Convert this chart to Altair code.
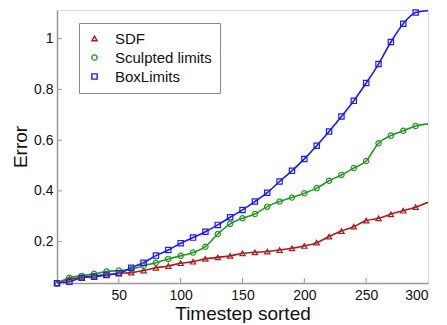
import altair as alt
import pandas as pd

timesteps = list(range(0, 301, 10))
series_names = ["SDF", "Sculpted limits", "BoxLimits"]

sdf = [0.036, 0.052, 0.058, 0.065, 0.069, 0.075, 0.078, 0.086, 0.097, 0.104,
       0.115, 0.121, 0.132, 0.138, 0.144, 0.154, 0.158, 0.161, 0.167, 0.174,
       0.183, 0.196, 0.220, 0.242, 0.259, 0.283, 0.292, 0.308, 0.322, 0.336, 0.355]
sculpted = [0.036, 0.058, 0.065, 0.073, 0.082, 0.086, 0.091, 0.105, 0.117, 0.132,
            0.144, 0.157, 0.180, 0.230, 0.270, 0.292, 0.309, 0.338, 0.358, 0.374,
            0.391, 0.411, 0.440, 0.463, 0.490, 0.518, 0.588, 0.618, 0.637, 0.656, 0.664]
box = [0.036, 0.042, 0.058, 0.062, 0.069, 0.075, 0.097, 0.117, 0.145, 0.167,
       0.194, 0.216, 0.239, 0.266, 0.296, 0.325, 0.358, 0.393, 0.437, 0.479,
       0.526, 0.578, 0.634, 0.693, 0.755, 0.825, 0.900, 0.987, 1.059, 1.103, 1.110]

x_ticks = [50, 100, 150, 200, 250, 300]
y_ticks = [0.2, 0.4, 0.6, 0.8, 1.0]

colors = ["#b01c1c", "#1f9a1f", "#1a1aff"]
shapes = ["triangle-up", "circle", "square"]

rows = []
for name, vals in zip(series_names, [sdf, sculpted, box]):
    for t, v in zip(timesteps, vals):
        rows.append({"t": t, "err": v, "series": name})
df = pd.DataFrame(rows)
pts = df[df["t"] < 300]

FONT = "Liberation Sans"
xscale = alt.Scale(domain=[0, 300], nice=False, zero=False)
yscale = alt.Scale(domain=[0.037, 1.113], nice=False, zero=False)
cscale = alt.Scale(domain=series_names, range=colors)
sscale = alt.Scale(domain=series_names, range=shapes)

xaxis = alt.Axis(values=x_ticks, ticks=False, grid=False, title="Timestep sorted",
                 domainColor="#999999", domainWidth=1.5, labelFontSize=14,
                 labelPadding=5, titleFontSize=19, titlePadding=2,
                 labelColor="#111", titleColor="#111", titleFontWeight="normal")
yaxis = alt.Axis(values=y_ticks, ticks=False, grid=False, title="Error",
                 labelExpr="datum.value == 1 ? '1' : format(datum.value, '.1f')",
                 domainColor="#999999", domainWidth=1.5, labelFontSize=14,
                 labelPadding=4, titleFontSize=19, titlePadding=3,
                 labelColor="#111", titleColor="#111", titleFontWeight="normal")

legend = alt.Legend(title=None, orient="none", legendX=22, legendY=13,
                    fillColor="white", strokeColor="#888888",
                    padding=8, labelFontSize=15, labelFont=FONT,
                    labelColor="#111", symbolSize=28,
                    symbolStrokeWidth=1.4, rowPadding=3,
                    labelOffset=13, symbolFillColor="transparent")

lines = alt.Chart(df).mark_line(interpolate="monotone", strokeWidth=1.6, clip=True).encode(
    x=alt.X("t:Q", scale=xscale, axis=xaxis),
    y=alt.Y("err:Q", scale=yscale, axis=yaxis),
    color=alt.Color("series:N", scale=cscale, sort=series_names, legend=legend),
    detail="series:N",
)

points = alt.Chart(pts).mark_point(filled=False, size=28, strokeWidth=1.2, opacity=1).encode(
    x=alt.X("t:Q", scale=xscale),
    y=alt.Y("err:Q", scale=yscale),
    color=alt.Color("series:N", scale=cscale, sort=series_names, legend=legend),
    shape=alt.Shape("series:N", scale=sscale, sort=series_names, legend=legend),
)

xt = pd.DataFrame({"v": x_ticks[:-1]})
yt = pd.DataFrame({"v": y_ticks})
xtick_rules = alt.Chart(xt).mark_rule(color="#999999", strokeWidth=1).encode(
    x=alt.X("v:Q", scale=xscale), y=alt.value(273), y2=alt.value(268))
ytick_rules = alt.Chart(yt).mark_rule(color="#999999", strokeWidth=1).encode(
    y=alt.Y("v:Q", scale=yscale), x=alt.value(0), x2=alt.value(5))

chart = alt.layer(lines, points, xtick_rules, ytick_rules).properties(
    width=371, height=273,
    autosize=alt.AutoSizeParams(type="none"),
    padding={"left": 49, "top": 2, "right": 10, "bottom": 40},
).configure_view(stroke=None).configure(font=FONT, background="white")

chart.save("out.html", embed_options={"renderer": "svg", "actions": False})
